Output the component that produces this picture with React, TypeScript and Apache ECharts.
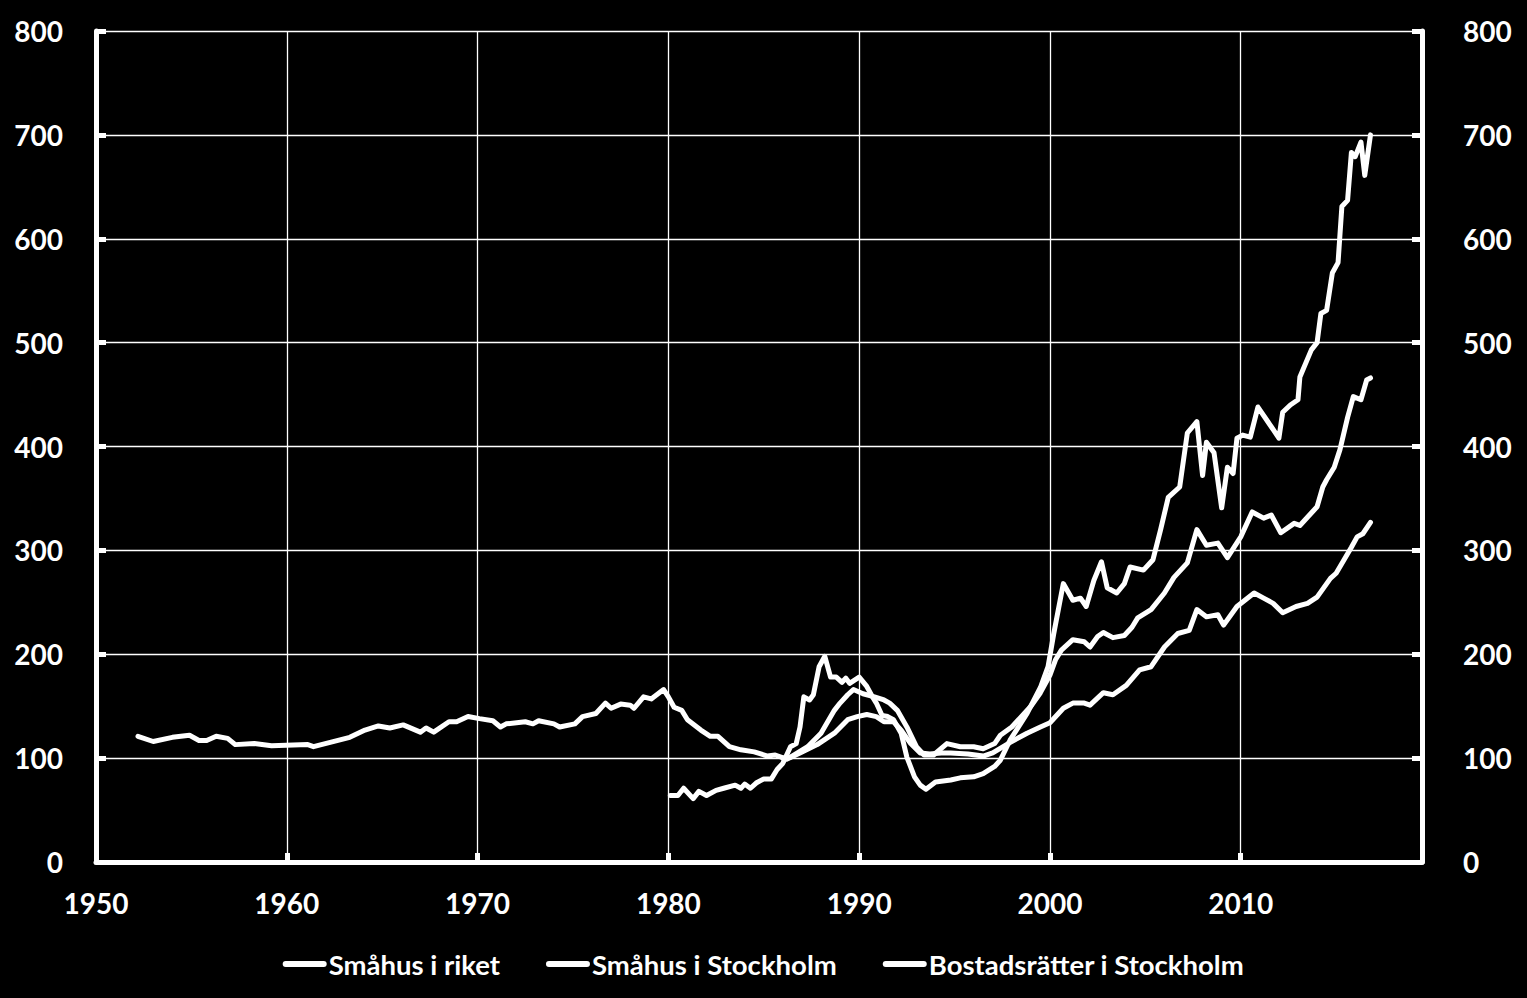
import React, { useEffect, useRef } from "react";
import * as echarts from "echarts";

const seriesNames = ["Småhus i riket", "Småhus i Stockholm", "Bostadsrätter i Stockholm"];

const rikYears = [
  1952.2, 1953.0, 1954.0, 1954.9, 1955.4, 1955.8, 1956.3, 1956.9, 1957.3, 1958.3, 1959.2, 1961.1, 1961.4,
  1963.3, 1964.1, 1964.8, 1965.4, 1966.1, 1967.0, 1967.3, 1967.7, 1968.5, 1968.9, 1969.5, 1970.1, 1970.8,
  1971.2, 1971.5, 1972.5, 1972.9, 1973.2, 1974.0, 1974.3, 1975.1, 1975.5, 1976.2, 1976.7, 1977.0, 1977.5,
  1978.0, 1978.2, 1978.7, 1979.1, 1979.75, 1980.0, 1980.3, 1980.7, 1981.0, 1981.7, 1982.2, 1982.6, 1983.2,
  1983.8, 1984.5, 1985.2, 1985.6, 1986.2, 1986.9, 1987.8, 1988.7, 1989.4, 1989.9, 1990.4, 1990.9, 1991.3,
  1991.8, 1992.2, 1992.7, 1993.2, 1993.7, 1994.3, 1994.8, 1995.7, 1996.5, 1997.0, 1997.9, 1998.8, 1999.5,
  2000.0, 2000.7, 2001.2, 2001.8, 2002.1, 2002.8, 2003.3, 2004.0, 2004.7, 2005.3, 2006.0, 2006.7, 2007.3,
  2007.7, 2008.2, 2008.8, 2009.1, 2009.8, 2010.7, 2011.2, 2011.7, 2012.2, 2012.9, 2013.5, 2014.0, 2014.7,
  2015.0, 2015.8, 2016.1, 2016.4, 2016.8,
];
const rikValues = [
  121, 116, 120, 122, 117, 117, 121, 119, 113, 114, 112, 113, 111,
  120, 127, 131, 129, 132, 125, 129, 125, 135, 135, 140, 138, 136,
  130, 133, 135, 133, 136, 133, 130, 133, 140, 143, 153, 148, 152,
  151, 148, 159, 157, 166, 159, 149, 146, 137, 127, 121, 121, 111,
  108, 106, 102, 103, 99, 105, 113, 124, 137, 140, 142, 140, 135,
  135, 127, 114, 105, 104, 105, 105, 104, 102, 105, 115, 124, 130,
  134, 148, 153, 153, 151, 163, 161, 170, 185, 188, 207, 220, 223,
  243, 236, 238, 228, 246, 259, 254, 249, 240, 246, 249, 255, 273,
  278, 303, 313, 316, 327,
];

const sthYears = [
  1986.0, 1986.4, 1987.3, 1988.0, 1988.7, 1989.0, 1989.4, 1989.7, 1990.2, 1990.8, 1991.3, 1991.6, 1992.0,
  1992.5, 1993.0, 1993.4, 1993.9, 1994.6, 1995.3, 1996.0, 1996.5, 1997.1, 1997.4, 1998.0, 1998.5, 1999.0,
  1999.5, 2000.0, 2000.3, 2000.6, 2001.2, 2001.8, 2002.1, 2002.5, 2002.8, 2003.3, 2003.9, 2004.3, 2004.6,
  2005.3, 2006.0, 2006.5, 2007.2, 2007.7, 2008.2, 2008.8, 2009.3, 2010.0, 2010.6, 2011.2, 2011.6, 2012.1,
  2012.8, 2013.1, 2013.7, 2014.0, 2014.3, 2014.5, 2014.9, 2015.2, 2015.6, 2015.9, 2016.3, 2016.6, 2016.8,
];
const sthValues = [
  100, 101, 111, 124, 146, 153, 161, 166, 162, 159, 156, 153, 146,
  130, 111, 103, 103, 114, 111, 111, 109, 114, 122, 130, 140, 150,
  163, 180, 195, 204, 214, 212, 207, 217, 221, 216, 218, 226, 235,
  243, 259, 274, 288, 320, 305, 307, 293, 313, 337, 331, 334, 317,
  326, 324, 336, 342, 361, 368, 380, 397, 428, 448, 445, 464, 466,
];

const brfYears = [
  1980.1, 1980.5, 1980.8, 1981.3, 1981.6, 1982.0, 1982.5, 1982.9, 1983.5, 1983.8, 1984.0, 1984.3, 1984.6,
  1985.0, 1985.4, 1985.7, 1986.0, 1986.4, 1986.7, 1986.9, 1987.1, 1987.4, 1987.6, 1987.9, 1988.2, 1988.5,
  1988.8, 1989.1, 1989.3, 1989.5, 1990.0, 1990.4, 1990.7, 1990.9, 1991.2, 1991.5, 1991.8, 1992.2, 1992.5,
  1992.9, 1993.2, 1993.5, 1994.0, 1994.8, 1995.3, 1996.0, 1996.5, 1997.1, 1997.4, 1997.9, 1998.8, 1999.5,
  1999.9, 2000.2, 2000.7, 2001.2, 2001.6, 2001.9, 2002.3, 2002.7, 2003.0, 2003.5, 2003.9, 2004.2, 2004.9,
  2005.4, 2005.8, 2006.2, 2006.8, 2007.2, 2007.7, 2008.0, 2008.2, 2008.6, 2009.0, 2009.3, 2009.6, 2009.8,
  2010.1, 2010.5, 2010.9, 2011.6, 2012.0, 2012.2, 2012.6, 2013.0, 2013.1, 2013.7, 2014.0, 2014.2, 2014.5,
  2014.8, 2015.1, 2015.3, 2015.6, 2015.8, 2016.0, 2016.3, 2016.5, 2016.8,
];
const brfValues = [
  64, 64, 71, 61, 68, 64, 69, 71, 74, 71, 75, 71, 76,
  80, 80, 89, 95, 111, 114, 130, 159, 156, 161, 188, 198, 178,
  178, 173, 177, 172, 178, 169, 159, 153, 141, 140, 137, 124, 101,
  82, 74, 70, 77, 79, 81, 82, 85, 92, 98, 117, 143, 168,
  188, 220, 268, 252, 254, 246, 271, 289, 264, 259, 268, 284, 281,
  291, 320, 351, 361, 413, 424, 372, 404, 394, 341, 380, 374, 408,
  411, 409, 438, 419, 408, 433, 440, 445, 467, 493, 500, 528, 531,
  567, 577, 631, 637, 683, 679, 693, 661, 700,
];

const xTickYears = [1950, 1960, 1970, 1980, 1990, 2000, 2010];
const yTicks = [0, 100, 200, 300, 400, 500, 600, 700, 800];

const FONT = "Lato, Carlito, Calibri, 'Open Sans', sans-serif";
const LEGEND_ICON = "path://M3,0 H41 A3,3 0 0 1 41,6 H3 A3,3 0 0 1 3,0 Z";

function pairs(xs: number[], ys: number[]) {
  return xs.map((x, i) => [x, ys[i]]);
}

export default function App() {
  const ref = useRef<HTMLDivElement>(null);

  useEffect(() => {
    if (!ref.current) return;
    const chart = echarts.init(ref.current, null, { renderer: "svg" });
    const lineCommon = {
      type: "line" as const,
      showSymbol: false,
      symbol: "none",
      smooth: false,
      lineStyle: { color: "#ffffff", width: 5, cap: "round", join: "round" },
      itemStyle: { color: "#ffffff" },
    };
    const yAxisCommon = {
      type: "value" as const,
      min: yTicks[0],
      max: yTicks[yTicks.length - 1],
      interval: 100,
      axisLine: { show: true, lineStyle: { color: "#ffffff", width: 5 } },
      axisTick: { show: true, inside: true, length: 10, lineStyle: { color: "#ffffff", width: 5 } },
    };
    chart.setOption({
      animation: false,
      backgroundColor: "#000000",
      textStyle: { fontFamily: FONT },
      grid: { left: 96, right: 105, top: 31, bottom: 136, containLabel: false },
      legend: {
        data: seriesNames.map((n) => ({ name: n, icon: LEGEND_ICON })),
        left: "center",
        top: 945,
        itemWidth: 44,
        itemHeight: 6,
        itemGap: 46,
        itemStyle: { color: "#ffffff", borderWidth: 0 },
        textStyle: { color: "#ffffff", fontSize: 27.5, fontWeight: "bold", fontFamily: FONT, padding: [0, 0, 0, -3] },
      },
      xAxis: {
        type: "value",
        min: xTickYears[0],
        max: 2019.5,
        interval: 10,
        axisLine: { show: true, onZero: false, lineStyle: { color: "#ffffff", width: 5 } },
        axisTick: { show: true, inside: true, length: 9, lineStyle: { color: "#ffffff", width: 5 } },
        splitLine: { show: true, lineStyle: { color: "#ffffff", width: 1.3 } },
        axisLabel: {
          color: "#ffffff",
          fontSize: 28,
          fontWeight: "bold",
          fontFamily: FONT,
          margin: 27,
          showMaxLabel: false,
          formatter: (v: number) => (xTickYears.indexOf(v) >= 0 ? String(v) : ""),
        },
      },
      yAxis: [
        {
          ...yAxisCommon,
          position: "left",
          splitLine: { show: true, lineStyle: { color: "#ffffff", width: 1.3 } },
          axisLabel: { color: "#ffffff", fontSize: 28, fontWeight: "bold", fontFamily: FONT, margin: 33 },
        },
        {
          ...yAxisCommon,
          position: "right",
          splitLine: { show: false },
          axisLabel: { color: "#ffffff", fontSize: 28, fontWeight: "bold", fontFamily: FONT, margin: 41 },
        },
      ],
      series: [
        { ...lineCommon, name: seriesNames[0], data: pairs(rikYears, rikValues) },
        { ...lineCommon, name: seriesNames[1], data: pairs(sthYears, sthValues) },
        { ...lineCommon, name: seriesNames[2], data: pairs(brfYears, brfValues) },
      ],
    });
    return () => chart.dispose();
  }, []);

  return (
    <div
      ref={ref}
      style={{ position: "fixed", left: 0, top: 0, width: 1527, height: 998, background: "#000" }}
    />
  );
}
